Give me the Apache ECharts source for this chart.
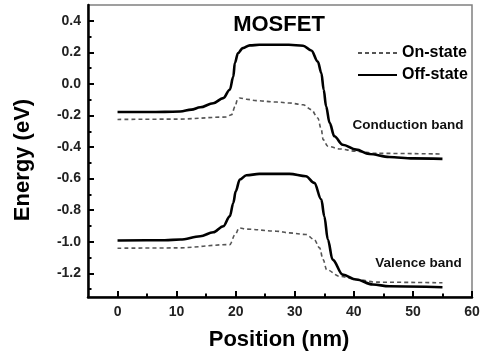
<!DOCTYPE html>
<html>
<head>
<meta charset="utf-8">
<script src="https://cdn.jsdelivr.net/npm/echarts@6/dist/echarts.min.js"></script>
<style>
  html, body { margin: 0; padding: 0; background: #fff; }
  #chart { width: 484px; height: 359px; }
</style>
</head>
<body>
<div id="chart"></div>
<script>
// Band-edge energies (eV) along the channel position (nm)
const offCondX = [0, 5, 8, 10.6, 12.5, 14.0, 16.2, 17.9, 19.0, 19.6, 19.85, 20.4, 21.2, 22.4, 24, 29, 31.4, 32.8, 33.9, 34.5, 34.9, 35.3, 35.9, 36.7, 38.1, 40.4, 42.6, 46.0, 50, 55];
const offCondE = [-0.178, -0.178, -0.177, -0.175, -0.163, -0.148, -0.122, -0.090, -0.037, 0.047, 0.132, 0.196, 0.227, 0.244, 0.248, 0.248, 0.242, 0.212, 0.142, 0.069, -0.037, -0.142, -0.247, -0.332, -0.385, -0.416, -0.444, -0.463, -0.472, -0.475];

const onCondX = [0, 10, 18.4, 19.3, 19.9, 20.3, 20.7, 21.8, 23.5, 26.9, 29.1, 31.4, 32.8, 33.9, 34.5, 34.8, 35.6, 37.6, 40.4, 43.8, 55];
const onCondE = [-0.225, -0.223, -0.210, -0.195, -0.142, -0.100, -0.089, -0.097, -0.106, -0.115, -0.121, -0.132, -0.163, -0.216, -0.290, -0.353, -0.395, -0.412, -0.427, -0.440, -0.444];

const offValX = [0, 8, 10.6, 14.0, 16.2, 17.9, 19.0, 19.6, 20.0, 20.7, 21.8, 24, 29.1, 31.9, 33.3, 34.5, 35.0, 35.6, 36.4, 38.1, 40.4, 43.2, 46.0, 55];
const offValE = [-0.992, -0.990, -0.986, -0.965, -0.940, -0.902, -0.839, -0.754, -0.680, -0.606, -0.579, -0.570, -0.570, -0.585, -0.627, -0.733, -0.839, -0.986, -1.113, -1.208, -1.239, -1.271, -1.282, -1.288];

const onValX = [0, 10, 19.0, 19.9, 20.6, 21.8, 26.9, 29.1, 31.9, 33.3, 34.2, 34.8, 35.4, 37.6, 40.4, 43.8, 55];
const onValE = [-1.041, -1.039, -1.018, -0.954, -0.912, -0.920, -0.933, -0.944, -0.954, -0.986, -1.039, -1.113, -1.177, -1.219, -1.239, -1.256, -1.260];

// Axis tick positions and labels
const xMajor = [0, 10, 20, 30, 40, 50, 60];
const xMinor = [5, 15, 25, 35, 45, 55];
const yMajor = [0.4, 0.2, 0.0, -0.2, -0.4, -0.6, -0.8, -1.0, -1.2];
const yMinor = [0.3, 0.1, -0.1, -0.3, -0.5, -0.7, -0.9, -1.1, -1.3];

const zip = (xs, ys) => xs.map((x, i) => [x, ys[i]]);

const FONT = 'Liberation Sans, Arial, sans-serif';
const X_RANGE = { min: -5, max: 60 };
const Y_RANGE = { min: -1.35, max: 0.5 };

const dashedStyle = { color: '#555', width: 1.6, type: [4, 3] };
const solidStyle = { color: '#000', width: 2.6, type: 'solid' };

const lineSeries = (name, data, style) => ({
  name, type: 'line', data,
  xAxisIndex: 0, yAxisIndex: 0,
  showSymbol: false, symbol: 'none',
  smooth: 0.35, smoothMonotone: 'x',
  lineStyle: style, itemStyle: { color: style.color },
  z: style.type === 'solid' ? 3 : 2
});

// An overlay axis that only draws a set of inward ticks
const tickAxis = (range, position, values, length) => ({
  type: 'value', ...range, position,
  axisLine: { show: false, onZero: false },
  axisTick: { show: true, inside: true, length, customValues: values, lineStyle: { color: '#000', width: 2 } },
  axisLabel: { show: false },
  splitLine: { show: false }
});

const chart = echarts.init(document.getElementById('chart'), null, { renderer: 'canvas' });

chart.setOption({
  animation: false,
  backgroundColor: '#fff',
  grid: {
    left: 88, right: 12, top: 5, bottom: 62,
    show: true, borderColor: '#808080', borderWidth: 1.5, backgroundColor: 'transparent'
  },
  title: {
    text: 'MOSFET', left: 274, top: 9, textAlign: 'center',
    textStyle: { fontFamily: FONT, fontWeight: 'bold', fontSize: 22, color: '#000' }
  },
  legend: {
    orient: 'vertical', left: 357, top: 45, padding: 0,
    itemWidth: 39, itemHeight: 12, itemGap: 6,
    data: ['On-state', 'Off-state'],
    itemStyle: { opacity: 0 },
    textStyle: { fontFamily: FONT, fontWeight: 'bold', fontSize: 16, color: '#000' }
  },
  xAxis: [
    {
      type: 'value', ...X_RANGE, position: 'bottom',
      axisLine: { show: true, onZero: false, lineStyle: { color: '#000', width: 2.5 } },
      axisTick: { show: false },
      axisLabel: { customValues: xMajor, margin: 8, fontFamily: FONT, fontWeight: 'bold', fontSize: 14, color: '#222' },
      splitLine: { show: false }
    },
    tickAxis(X_RANGE, 'bottom', xMajor, 6),
    tickAxis(X_RANGE, 'bottom', xMinor, 3.5)
  ],
  yAxis: [
    {
      type: 'value', ...Y_RANGE, position: 'left',
      axisLine: { show: true, onZero: false, lineStyle: { color: '#000', width: 2.5 } },
      axisTick: { show: false },
      axisLabel: {
        customValues: yMajor, margin: 7, fontFamily: FONT, fontWeight: 'bold', fontSize: 14, color: '#222',
        formatter: v => v.toFixed(1)
      },
      splitLine: { show: false }
    },
    tickAxis(Y_RANGE, 'left', yMajor, 6),
    tickAxis(Y_RANGE, 'left', yMinor, 3.5)
  ],
  graphic: [
    {
      type: 'text', x: 279, y: 340, style: {
        text: 'Position (nm)', align: 'center', verticalAlign: 'middle',
        font: 'bold 22px ' + FONT, fill: '#000'
      }
    },
    {
      type: 'text', x: 23, y: 160, rotation: Math.PI / 2, style: {
        text: 'Energy (eV)', align: 'center', verticalAlign: 'middle',
        font: 'bold 22px ' + FONT, fill: '#000'
      }
    },
    {
      type: 'text', x: 408, y: 125, style: {
        text: 'Conduction band', align: 'center', verticalAlign: 'middle',
        font: 'bold 13.5px ' + FONT, fill: '#111'
      }
    },
    {
      type: 'text', x: 418.5, y: 263, style: {
        text: 'Valence band', align: 'center', verticalAlign: 'middle',
        font: 'bold 13.5px ' + FONT, fill: '#111'
      }
    }
  ],
  series: [
    lineSeries('On-state', zip(onCondX, onCondE), dashedStyle),
    lineSeries('Off-state', zip(offCondX, offCondE), solidStyle),
    lineSeries('On-state', zip(onValX, onValE), dashedStyle),
    lineSeries('Off-state', zip(offValX, offValE), solidStyle)
  ]
});
</script>
</body>
</html>
